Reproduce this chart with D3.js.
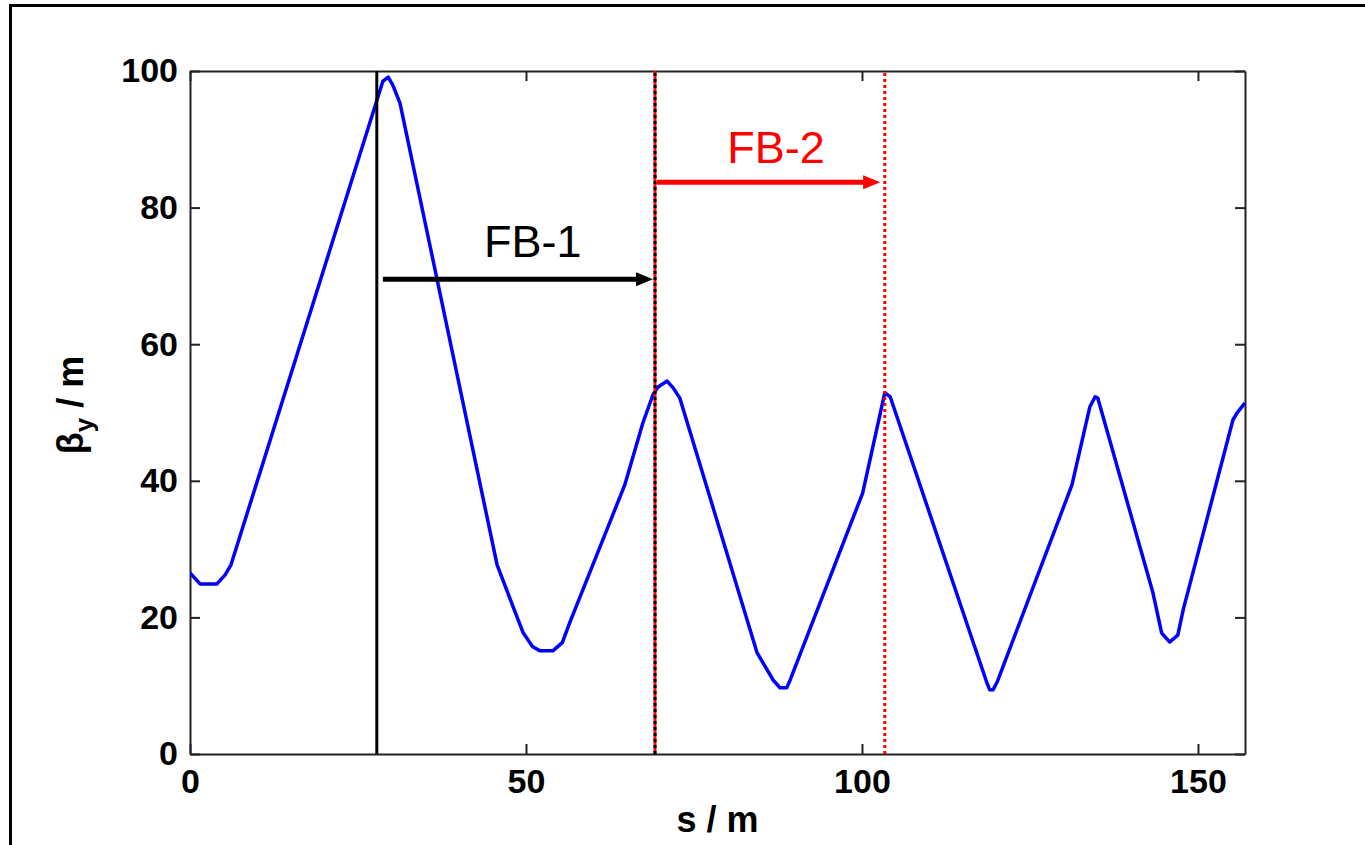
<!DOCTYPE html>
<html>
<head>
<meta charset="utf-8">
<script src="https://cdn.jsdelivr.net/npm/d3@7"></script>
<style>
  body { margin: 0; background: #fff; overflow: hidden; }
  svg { display: block; }
  text { font-family: "Liberation Sans", Arial, sans-serif; }
</style>
</head>
<body>
<svg id="chart" width="1365" height="845"></svg>
<script>
// beta_y along the beam line
const sPos = [0, 1.5, 4.0, 5.2, 6.1, 28.7, 29.5, 30.2, 31.25, 45.7, 48.1, 49.6, 51.0, 52.1, 54.0, 55.4, 56.5,
  64.7, 67.4, 68.9, 69.6, 71.0, 71.9, 72.9, 84.4, 86.8, 87.8, 88.8, 89.3, 100.1, 103.4, 104.2,
  118.6, 119.0, 119.5, 120.1, 131.25, 133.9, 134.7, 135.1, 143.3, 144.6, 145.8, 147.0, 147.8,
  155.2, 155.8, 157.0];
const betaY = [26.5, 24.9, 24.9, 26.2, 27.7, 98.5, 99.1, 97.9, 95.3, 27.7, 21.5, 17.7, 15.7, 15.1, 15.1, 16.3, 19.2,
  39.4, 48.5, 52.6, 53.7, 54.6, 53.6, 52.1, 14.8, 10.8, 9.7, 9.7, 10.8, 38.2, 52.9, 52.3,
  10.4, 9.4, 9.4, 10.5, 39.4, 50.8, 52.3, 52.1, 23.6, 17.7, 16.4, 17.4, 21.1,
  48.9, 49.9, 51.4];

const xTicks = [0, 50, 100, 150];
const yTicks = [0, 20, 40, 60, 80, 100];

// feedback positions (s / m)
const kickS = 27.8;
const fb1S = 69.2;
const fb2S = 103.4;

// arrows: [from s, to s, at beta]
const fb1Arrow = [28.7, 68.9, 69.5];
const fb2Arrow = [69.5, 102.7, 83.7];
const fb1Label = [51.0, 72.8];
const fb2Label = [87.2, 86.5];

const margin = { top: 71, right: 120, bottom: 91, left: 190 };
const width = 1365, height = 845;
const innerWidth = width - margin.left - margin.right;
const innerHeight = height - margin.top - margin.bottom;

const svg = d3.select("#chart");

// outer frame (right and bottom edges run off the picture)
svg.append("path")
    .attr("d", `M10.5,${height} L10.5,5.5 L${width},5.5`)
    .attr("fill", "none")
    .attr("stroke", "#000")
    .attr("stroke-width", 3);

const g = svg.append("g").attr("transform", `translate(${margin.left},${margin.top})`);

const x = d3.scaleLinear().domain([0, 157]).range([0, innerWidth]);
const y = d3.scaleLinear().domain([0, 100]).range([innerHeight, 0]);

g.append("clipPath").attr("id", "clip")
  .append("rect").attr("width", innerWidth).attr("height", innerHeight);

// axes with inward ticks
const styleAxis = sel => {
    sel.attr("font-size", 34).attr("font-family", '"Liberation Sans", Arial, sans-serif');
    sel.selectAll("path, line").attr("stroke", "#222").attr("stroke-width", 2);
    sel.selectAll("text")
        .attr("fill", "#000")
        .attr("font-weight", "bold");
};
const noLabels = sel => sel.selectAll("text").remove();

g.append("g")
    .attr("transform", `translate(0,${innerHeight})`)
    .call(d3.axisBottom(x).tickValues(xTicks).tickSizeInner(-10).tickSizeOuter(0).tickPadding(15))
    .call(styleAxis);

g.append("g")
    .call(d3.axisTop(x).tickValues(xTicks).tickSizeInner(-10).tickSizeOuter(0))
    .call(styleAxis)
    .call(noLabels);

g.append("g")
    .call(d3.axisLeft(y).tickValues(yTicks).tickSizeInner(-10).tickSizeOuter(0).tickPadding(12))
    .call(styleAxis);

g.append("g")
    .attr("transform", `translate(${innerWidth},0)`)
    .call(d3.axisRight(y).tickValues(yTicks).tickSizeInner(-10).tickSizeOuter(0))
    .call(styleAxis)
    .call(noLabels);

// axis titles
svg.append("text")
    .attr("x", margin.left + x(78.5))
    .attr("y", 832)
    .attr("text-anchor", "middle")
    .attr("font-size", 36)
    .attr("font-weight", "bold")
    .text("s / m");

const yTitle = svg.append("text")
    .attr("transform", "translate(83,405) rotate(-90)")
    .attr("text-anchor", "middle")
    .attr("font-size", 36)
    .attr("font-weight", "bold");
yTitle.append("tspan").text("\u03B2");
yTitle.append("tspan").attr("font-size", 26).attr("dy", 10).text("y");
yTitle.append("tspan").attr("dy", -10).text(" / m");

const plot = g.append("g").attr("clip-path", "url(#clip)");

// beta curve
const pts = sPos.map((s, i) => ({ x: s, y: betaY[i] }));
const line = d3.line()
    .x(d => x(d.x))
    .y(d => y(d.y));

plot.append("path")
    .datum(pts)
    .attr("fill", "none")
    .attr("stroke", "#0000ff")
    .attr("stroke-width", 3.5)
    .attr("stroke-linejoin", "round")
    .attr("d", line);

// vertical markers
plot.append("line")
    .attr("x1", x(kickS)).attr("x2", x(kickS))
    .attr("y1", y(0)).attr("y2", y(100))
    .attr("stroke", "#000").attr("stroke-width", 3);

plot.append("line")
    .attr("x1", x(fb1S)).attr("x2", x(fb1S))
    .attr("y1", y(0)).attr("y2", y(100))
    .attr("stroke", "#ff0000").attr("stroke-width", 3);
plot.append("line")
    .attr("x1", x(fb1S)).attr("x2", x(fb1S))
    .attr("y1", y(0)).attr("y2", y(100))
    .attr("stroke", "#000").attr("stroke-width", 3)
    .attr("stroke-dasharray", "3,3");

plot.append("line")
    .attr("x1", x(fb2S)).attr("x2", x(fb2S))
    .attr("y1", y(0)).attr("y2", y(100))
    .attr("stroke", "#ff0000").attr("stroke-width", 3)
    .attr("stroke-dasharray", "3,3");

// arrows
function drawArrow(a, color) {
    const x0 = x(a[0]), x1 = x(a[1]), yy = y(a[2]);
    const head = 17, half = 7;
    g.append("line")
        .attr("x1", x0).attr("x2", x1 - head + 1)
        .attr("y1", yy).attr("y2", yy)
        .attr("stroke", color).attr("stroke-width", 5);
    g.append("path")
        .attr("d", `M${x1},${yy} L${x1 - head},${yy - half} L${x1 - head},${yy + half} Z`)
        .attr("fill", color);
}
drawArrow(fb1Arrow, "#000");
drawArrow(fb2Arrow, "#ff0000");

g.append("text")
    .attr("x", x(fb1Label[0])).attr("y", y(fb1Label[1]))
    .attr("text-anchor", "middle")
    .attr("font-size", 45)
    .attr("fill", "#000")
    .text("FB-1");

g.append("text")
    .attr("x", x(fb2Label[0])).attr("y", y(fb2Label[1]))
    .attr("text-anchor", "middle")
    .attr("font-size", 45)
    .attr("fill", "#ff0000")
    .text("FB-2");
</script>
</body>
</html>
